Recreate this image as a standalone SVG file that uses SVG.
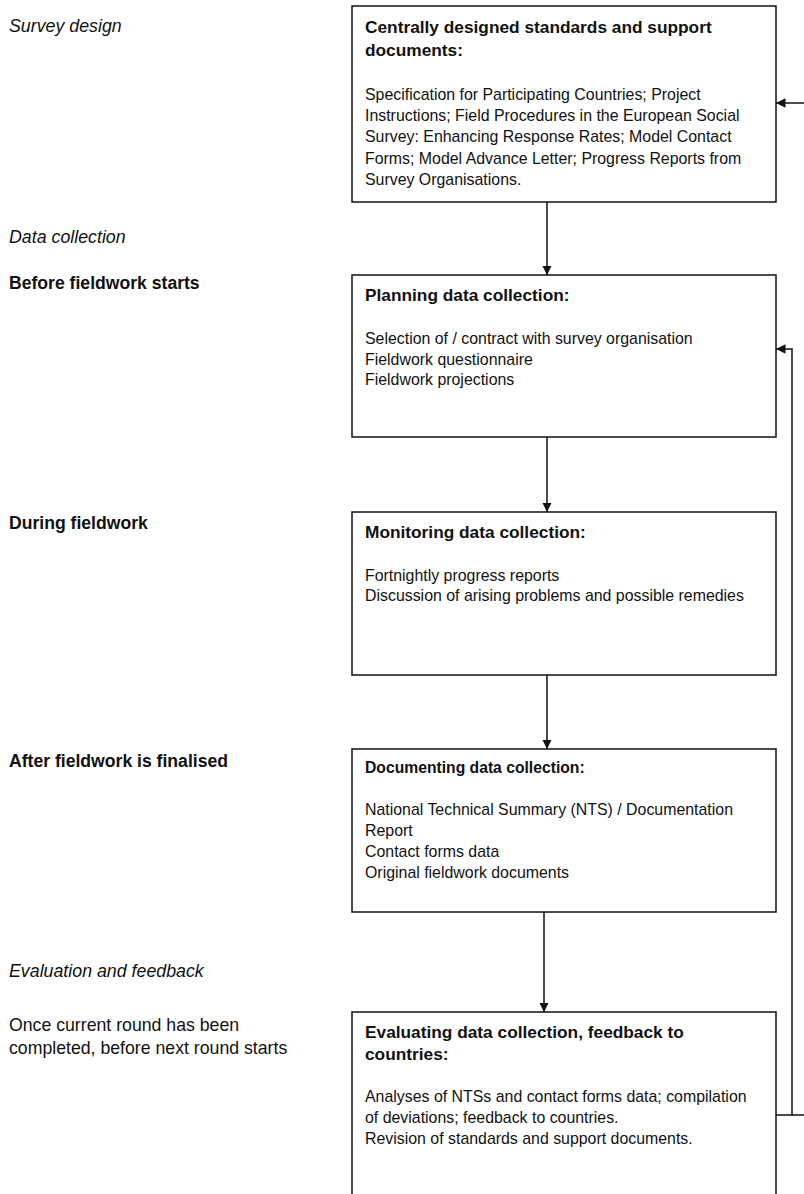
<svg xmlns="http://www.w3.org/2000/svg" width="804" height="1194" viewBox="0 0 804 1194">
<style>
text{font-family:"Liberation Sans",Arial,sans-serif;fill:#111}
.body{font-size:15.9px}
.title{font-size:17.3px;font-weight:bold}
.title2{font-size:15.7px;font-weight:bold}
.lab{font-size:17.7px}
.labb{font-size:17.6px;font-weight:bold}
.labi{font-size:17.8px;font-style:italic}
.box{fill:#fff;stroke:#111;stroke-width:1.5}
.con{fill:none;stroke:#111;stroke-width:1.5}
</style>
<defs>
<marker id="ah" viewBox="0 0 10 10" refX="10" refY="5" markerUnits="userSpaceOnUse" markerWidth="9.5" markerHeight="9.5" orient="auto">
<path d="M0,0 L10,5 L0,10 Z" fill="#111"/>
</marker>
</defs>
<rect width="804" height="1194" fill="#fff"/>
<g id="labels">
<text class="labi" x="9" y="32">Survey design</text>
<text class="labi" x="9" y="243">Data collection</text>
<text class="labb" x="9" y="289">Before fieldwork starts</text>
<text class="labb" x="9" y="529">During fieldwork</text>
<text class="labb" x="9" y="767">After fieldwork is finalised</text>
<text class="labi" x="9" y="977">Evaluation and feedback</text>
<text class="lab" x="9" y="1031">Once current round has been</text>
<text class="lab" x="9" y="1054">completed, before next round starts</text>
</g>
<g id="connectors">
<line class="con" x1="547" y1="202" x2="547" y2="275" marker-end="url(#ah)"/>
<line class="con" x1="547" y1="437" x2="547" y2="512" marker-end="url(#ah)"/>
<line class="con" x1="547" y1="675" x2="547" y2="749" marker-end="url(#ah)"/>
<line class="con" x1="544" y1="912" x2="544" y2="1012" marker-end="url(#ah)"/>
<polyline class="con" points="776,1115 792,1115 792,349 776,349" marker-end="url(#ah)"/>
<line class="con" x1="792" y1="1115" x2="806" y2="1115"/>
<line class="con" x1="806" y1="103" x2="776" y2="103" marker-end="url(#ah)"/>
</g>
<g id="node1">
<rect class="box" x="352" y="6" width="424" height="196"/>
<text class="title" x="365" y="33">Centrally designed standards and support</text>
<text class="title" x="365" y="56">documents:</text>
<text class="body" x="365" y="100">Specification for Participating Countries; Project</text>
<text class="body" x="365" y="121">Instructions; Field Procedures in the European Social</text>
<text class="body" x="365" y="142">Survey: Enhancing Response Rates; Model Contact</text>
<text class="body" x="365" y="164">Forms; Model Advance Letter; Progress Reports from</text>
<text class="body" x="365" y="185">Survey Organisations.</text>
</g>
<g id="node2">
<rect class="box" x="352" y="275" width="424" height="162"/>
<text class="title" x="365" y="301">Planning data collection:</text>
<text class="body" x="365" y="344">Selection of / contract with survey organisation</text>
<text class="body" x="365" y="365">Fieldwork questionnaire</text>
<text class="body" x="365" y="385">Fieldwork projections</text>
</g>
<g id="node3">
<rect class="box" x="352" y="512" width="424" height="163"/>
<text class="title" x="365" y="538">Monitoring data collection:</text>
<text class="body" x="365" y="581">Fortnightly progress reports</text>
<text class="body" x="365" y="601">Discussion of arising problems and possible remedies</text>
</g>
<g id="node4">
<rect class="box" x="352" y="749" width="424" height="163"/>
<text class="title2" x="365" y="773">Documenting data collection:</text>
<text class="body" x="365" y="815">National Technical Summary (NTS) / Documentation</text>
<text class="body" x="365" y="836">Report</text>
<text class="body" x="365" y="857">Contact forms data</text>
<text class="body" x="365" y="878">Original fieldwork documents</text>
</g>
<g id="node5">
<rect class="box" x="352" y="1012" width="424" height="200"/>
<text class="title" x="365" y="1038">Evaluating data collection, feedback to</text>
<text class="title" x="365" y="1060">countries:</text>
<text class="body" x="365" y="1102">Analyses of NTSs and contact forms data; compilation</text>
<text class="body" x="365" y="1123">of deviations; feedback to countries.</text>
<text class="body" x="365" y="1144">Revision of standards and support documents.</text>
</g>
</svg>
